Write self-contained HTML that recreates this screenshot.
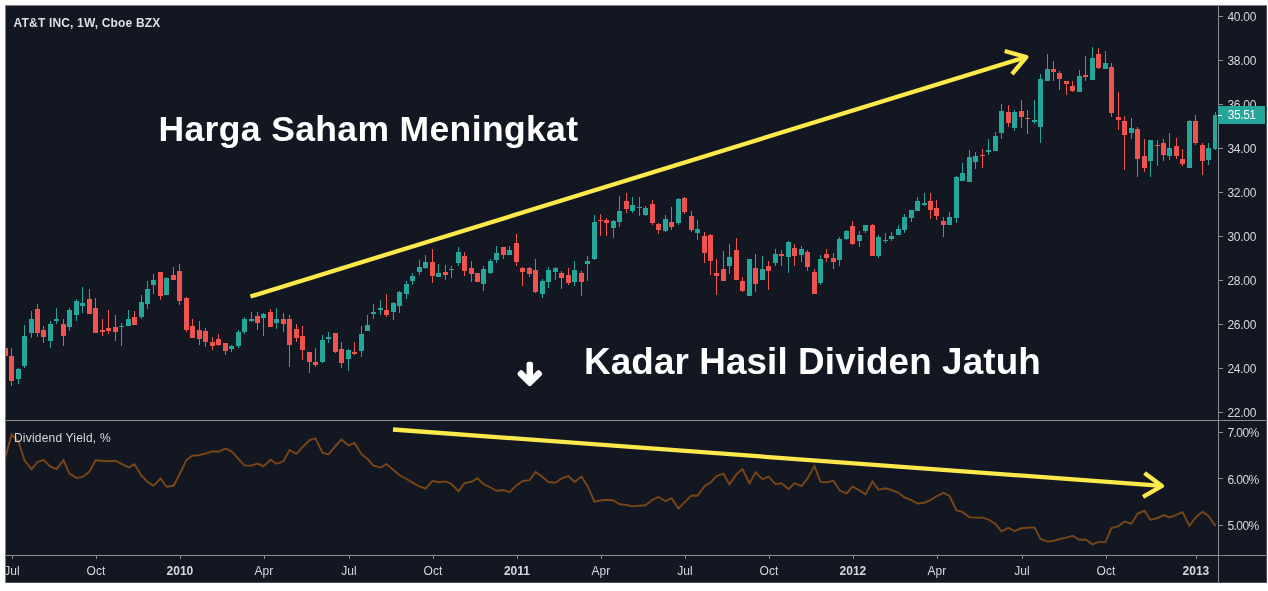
<!DOCTYPE html>
<html lang="ms"><head><meta charset="utf-8"><title>AT&amp;T INC – Harga Saham vs Kadar Hasil Dividen</title>
<style>
html,body{margin:0;padding:0;background:#fff;}
body{width:1268px;height:591px;overflow:hidden;}
svg{display:block;font-family:"Liberation Sans","DejaVu Sans",sans-serif;}
.ax text{font-size:12px;fill:#d6d8de;}
.pr text{letter-spacing:-0.3px;}
.big{font-weight:700;fill:#fff;letter-spacing:0.13px;}
</style></head><body>
<svg width="1268" height="591" viewBox="0 0 1268 591">
<defs><clipPath id="cp"><rect x="6" y="421" width="1212" height="134"/></clipPath><clipPath id="cp2"><rect x="6" y="556" width="1260" height="27"/></clipPath></defs>
<rect x="0" y="0" width="1268" height="591" fill="#fff"/>
<rect x="5" y="5" width="1262" height="578" fill="#131722"/>
<g shape-rendering="crispEdges">
<rect x="5" y="5" width="1262" height="1" fill="#7e8086"/>
<rect x="5" y="5" width="1" height="578" fill="#7e8086"/>
<rect x="1266" y="6" width="1" height="577" fill="#50535b"/>
<rect x="6" y="582" width="1261" height="1" fill="#50535b"/>
</g>
<g shape-rendering="crispEdges">
<path fill="#26a69a" d="M16,369h5v10h-5zM18,368h1v16h-1zM22,336h5v30h-5zM24,325h1v43h-1zM29,319h5v14h-5zM31,311h1v27h-1zM48,324h5v17h-5zM50,321h1v27h-1zM54,319h5v2h-5zM56,308h1v16h-1zM67,310h5v17h-5zM69,308h1v23h-1zM74,301h5v14h-5zM76,299h1v22h-1zM80,303h5v3h-5zM82,287h1v26h-1zM119,326h5v1h-5zM121,323h1v23h-1zM126,319h5v7h-5zM128,310h1v16h-1zM139,302h5v15h-5zM141,295h1v24h-1zM145,289h5v15h-5zM147,281h1v28h-1zM151,280h5v5h-5zM153,274h1v20h-1zM164,278h5v17h-5zM166,277h1v18h-1zM229,346h5v3h-5zM231,345h1v7h-1zM236,332h5v14h-5zM238,330h1v18h-1zM242,319h5v13h-5zM244,317h1v17h-1zM249,319h5v2h-5zM251,312h1v10h-1zM261,314h5v4h-5zM263,313h1v23h-1zM274,319h5v4h-5zM276,308h1v21h-1zM320,340h5v22h-5zM322,335h1v28h-1zM326,337h5v2h-5zM328,332h1v11h-1zM346,350h5v9h-5zM348,349h1v22h-1zM359,334h5v17h-5zM361,326h1v31h-1zM365,325h5v6h-5zM367,315h1v16h-1zM371,312h5v2h-5zM373,304h1v15h-1zM378,308h5v2h-5zM380,300h1v15h-1zM391,303h5v9h-5zM393,302h1v18h-1zM397,292h5v14h-5zM399,291h1v22h-1zM404,284h5v10h-5zM406,281h1v18h-1zM410,276h5v5h-5zM412,273h1v12h-1zM417,267h5v5h-5zM419,260h1v15h-1zM423,262h5v6h-5zM425,255h1v14h-1zM436,273h5v4h-5zM438,264h1v13h-1zM449,269h5v1h-5zM451,266h1v12h-1zM456,252h5v11h-5zM458,247h1v19h-1zM481,269h5v15h-5zM483,266h1v25h-1zM488,261h5v12h-5zM490,259h1v15h-1zM494,253h5v7h-5zM496,246h1v17h-1zM507,250h5v5h-5zM509,246h1v9h-1zM540,281h5v13h-5zM542,279h1v19h-1zM546,270h5v12h-5zM548,267h1v21h-1zM553,268h5v4h-5zM555,267h1v13h-1zM572,270h5v12h-5zM574,261h1v25h-1zM585,261h5v3h-5zM587,256h1v25h-1zM592,222h5v37h-5zM594,215h1v45h-1zM611,221h5v7h-5zM613,220h1v18h-1zM617,211h5v11h-5zM619,196h1v31h-1zM630,205h5v6h-5zM632,197h1v16h-1zM637,207h5v1h-5zM639,197h1v19h-1zM643,208h5v7h-5zM645,206h1v10h-1zM663,219h5v12h-5zM665,215h1v17h-1zM676,199h5v24h-5zM678,198h1v27h-1zM695,229h5v4h-5zM697,220h1v20h-1zM727,257h5v9h-5zM729,244h1v30h-1zM747,259h5v37h-5zM760,269h5v11h-5zM762,256h1v24h-1zM773,254h5v9h-5zM775,249h1v17h-1zM786,242h5v15h-5zM788,241h1v32h-1zM799,249h5v6h-5zM801,246h1v16h-1zM818,259h5v24h-5zM820,255h1v30h-1zM837,239h5v21h-5zM839,237h1v29h-1zM844,231h5v8h-5zM846,230h1v10h-1zM857,235h5v6h-5zM859,231h1v16h-1zM863,225h5v6h-5zM865,225h1v8h-1zM876,237h5v19h-5zM878,235h1v23h-1zM883,240h5v1h-5zM885,233h1v10h-1zM889,236h5v3h-5zM891,232h1v9h-1zM896,229h5v6h-5zM898,225h1v10h-1zM902,217h5v13h-5zM904,214h1v19h-1zM909,210h5v8h-5zM911,210h1v12h-1zM915,201h5v10h-5zM917,197h1v14h-1zM922,203h5v2h-5zM924,193h1v13h-1zM947,217h5v8h-5zM949,212h1v13h-1zM954,177h5v41h-5zM956,176h1v47h-1zM960,173h5v8h-5zM962,163h1v18h-1zM967,157h5v25h-5zM969,150h1v32h-1zM973,156h5v6h-5zM975,152h1v17h-1zM986,150h5v2h-5zM988,139h1v16h-1zM993,136h5v15h-5zM995,132h1v19h-1zM999,111h5v22h-5zM1001,104h1v35h-1zM1012,112h5v16h-5zM1014,110h1v21h-1zM1032,120h5v2h-5zM1034,100h1v24h-1zM1038,79h5v48h-5zM1040,74h1v69h-1zM1045,69h5v12h-5zM1047,54h1v27h-1zM1077,76h5v16h-5zM1079,70h1v22h-1zM1090,58h5v22h-5zM1092,47h1v33h-1zM1103,63h5v6h-5zM1105,51h1v18h-1zM1129,128h5v5h-5zM1131,118h1v21h-1zM1148,140h5v21h-5zM1150,140h1v37h-1zM1167,148h5v8h-5zM1169,133h1v27h-1zM1187,121h5v47h-5zM1189,120h1v48h-1zM1206,148h5v12h-5zM1208,143h1v22h-1zM1213,115h4v34h-4zM1215,112h1v38h-1z"/>
<path fill="#ef5350" d="M6,348h2v8h-2zM9,356h5v25h-5zM11,348h1v38h-1zM35,309h5v24h-5zM37,304h1v33h-1zM41,330h5v7h-5zM43,326h1v17h-1zM61,324h5v12h-5zM63,319h1v27h-1zM87,299h5v15h-5zM89,289h1v25h-1zM93,308h5v25h-5zM95,298h1v35h-1zM100,330h5v2h-5zM102,319h1v17h-1zM106,328h5v3h-5zM108,310h1v24h-1zM113,327h5v5h-5zM115,315h1v26h-1zM132,317h5v8h-5zM134,311h1v14h-1zM158,272h5v24h-5zM160,272h1v28h-1zM171,275h5v5h-5zM173,267h1v13h-1zM177,271h5v30h-5zM179,264h1v41h-1zM184,298h5v32h-5zM186,297h1v35h-1zM190,326h5v12h-5zM192,319h1v19h-1zM197,330h5v9h-5zM199,321h1v24h-1zM203,331h5v11h-5zM205,328h1v19h-1zM210,342h5v4h-5zM212,337h1v13h-1zM216,339h5v6h-5zM218,334h1v12h-1zM223,343h5v8h-5zM225,343h1v12h-1zM255,316h5v7h-5zM257,312h1v18h-1zM268,312h5v15h-5zM270,309h1v18h-1zM281,319h5v5h-5zM283,313h1v19h-1zM287,319h5v26h-5zM289,315h1v52h-1zM294,329h5v9h-5zM296,324h1v18h-1zM300,336h5v14h-5zM302,326h1v34h-1zM307,352h5v10h-5zM309,352h1v21h-1zM313,362h5v3h-5zM315,348h1v19h-1zM333,333h5v19h-5zM335,333h1v20h-1zM339,349h5v14h-5zM341,342h1v26h-1zM352,352h5v2h-5zM354,342h1v13h-1zM384,310h5v5h-5zM386,294h1v23h-1zM430,262h5v14h-5zM432,249h1v34h-1zM443,272h5v3h-5zM445,265h1v15h-1zM462,256h5v15h-5zM464,252h1v24h-1zM469,268h5v6h-5zM471,261h1v21h-1zM475,273h5v9h-5zM501,247h5v8h-5zM503,247h1v12h-1zM514,243h5v19h-5zM516,234h1v32h-1zM520,268h5v4h-5zM522,267h1v19h-1zM527,268h5v6h-5zM529,267h1v10h-1zM533,270h5v22h-5zM535,259h1v34h-1zM559,273h5v5h-5zM561,271h1v18h-1zM566,275h5v8h-5zM568,268h1v17h-1zM579,273h5v9h-5zM581,271h1v25h-1zM598,220h5v1h-5zM600,214h1v22h-1zM604,220h5v3h-5zM606,218h1v18h-1zM624,201h5v8h-5zM626,193h1v20h-1zM650,204h5v19h-5zM652,200h1v25h-1zM656,224h5v6h-5zM658,223h1v11h-1zM669,222h5v5h-5zM671,207h1v23h-1zM682,198h5v14h-5zM684,197h1v17h-1zM689,216h5v14h-5zM691,211h1v21h-1zM702,236h5v17h-5zM704,232h1v31h-1zM708,235h5v26h-5zM710,234h1v41h-1zM714,273h5v3h-5zM716,259h1v36h-1zM721,269h5v12h-5zM723,251h1v30h-1zM734,250h5v30h-5zM736,238h1v42h-1zM740,281h5v10h-5zM742,277h1v15h-1zM753,268h5v16h-5zM755,254h1v38h-1zM766,266h5v5h-5zM768,261h1v29h-1zM779,254h5v2h-5zM781,250h1v16h-1zM792,248h5v8h-5zM794,244h1v22h-1zM805,252h5v15h-5zM807,250h1v21h-1zM812,272h5v22h-5zM814,269h1v25h-1zM824,254h5v4h-5zM826,249h1v13h-1zM831,258h5v4h-5zM833,253h1v16h-1zM850,226h5v18h-5zM852,221h1v24h-1zM870,225h5v31h-5zM872,224h1v32h-1zM928,201h5v9h-5zM930,193h1v26h-1zM934,208h5v8h-5zM936,200h1v20h-1zM941,221h5v4h-5zM943,217h1v20h-1zM980,155h5v1h-5zM982,149h1v19h-1zM1006,112h5v11h-5zM1008,105h1v22h-1zM1019,111h5v6h-5zM1021,100h1v28h-1zM1025,118h5v1h-5zM1027,110h1v24h-1zM1051,69h5v3h-5zM1053,61h1v20h-1zM1057,73h5v6h-5zM1059,71h1v19h-1zM1064,81h5v3h-5zM1066,81h1v14h-1zM1070,86h5v5h-5zM1072,81h1v11h-1zM1083,75h5v2h-5zM1085,56h1v25h-1zM1096,54h5v14h-5zM1098,48h1v21h-1zM1109,67h5v46h-5zM1111,63h1v54h-1zM1116,117h5v3h-5zM1118,92h1v38h-1zM1122,121h5v14h-5zM1124,116h1v54h-1zM1135,129h5v30h-5zM1137,127h1v50h-1zM1142,156h5v12h-5zM1144,139h1v33h-1zM1155,145h5v1h-5zM1157,140h1v26h-1zM1161,143h5v12h-5zM1163,139h1v22h-1zM1174,146h5v10h-5zM1176,138h1v21h-1zM1180,159h5v5h-5zM1182,149h1v17h-1zM1193,121h5v22h-5zM1195,115h1v30h-1zM1200,145h5v16h-5zM1202,143h1v32h-1z"/>
</g>
<path d="M5.5,457.0 L11.5,434.4 L18.5,441.8 L24.5,460.4 L31.5,469.2 L37.5,462.0 L43.5,459.9 L50.5,466.6 L56.5,469.2 L63.5,460.4 L69.5,473.6 L76.5,477.9 L82.5,476.9 L89.5,471.6 L95.5,460.2 L102.5,460.7 L108.5,461.2 L115.5,460.7 L121.5,463.8 L128.5,467.4 L134.5,464.3 L141.5,475.7 L147.5,481.7 L153.5,485.8 L160.5,478.5 L166.5,486.7 L173.5,485.8 L179.5,474.5 L186.5,459.9 L192.5,455.7 L199.5,455.1 L205.5,453.5 L212.5,451.3 L218.5,451.8 L225.5,448.5 L231.5,451.3 L238.5,458.9 L244.5,465.6 L251.5,465.6 L257.5,463.6 L263.5,466.4 L270.5,459.7 L276.5,463.8 L283.5,461.3 L289.5,450.0 L296.5,453.8 L302.5,447.1 L309.5,440.2 L315.5,438.4 L322.5,452.7 L328.5,454.4 L335.5,446.0 L341.5,439.6 L348.5,445.3 L354.5,443.0 L361.5,454.2 L367.5,459.0 L373.5,465.6 L380.5,467.6 L386.5,464.1 L393.5,470.0 L399.5,475.3 L406.5,479.0 L412.5,482.6 L419.5,486.5 L425.5,488.7 L432.5,480.9 L438.5,482.3 L445.5,481.4 L451.5,484.0 L458.5,491.3 L464.5,483.1 L471.5,481.8 L477.5,478.2 L483.5,484.0 L490.5,487.5 L496.5,490.8 L503.5,490.0 L509.5,492.1 L516.5,485.4 L522.5,481.1 L529.5,480.2 L535.5,471.9 L542.5,477.0 L548.5,482.0 L555.5,482.8 L561.5,478.4 L568.5,476.1 L574.5,482.0 L581.5,476.6 L587.5,485.9 L594.5,501.6 L600.5,500.5 L606.5,499.7 L613.5,500.5 L619.5,504.2 L626.5,505.0 L632.5,506.4 L639.5,505.7 L645.5,505.3 L652.5,499.7 L658.5,497.0 L665.5,501.2 L671.5,498.2 L678.5,508.6 L684.5,502.4 L691.5,495.5 L697.5,495.8 L704.5,486.1 L710.5,482.6 L716.5,476.0 L723.5,473.7 L729.5,484.4 L736.5,474.2 L742.5,469.0 L749.5,483.5 L755.5,472.3 L762.5,479.1 L768.5,476.6 L775.5,484.1 L781.5,483.2 L788.5,489.1 L794.5,483.2 L801.5,486.2 L807.5,478.4 L814.5,465.9 L820.5,481.9 L826.5,482.3 L833.5,480.6 L839.5,490.3 L846.5,493.5 L852.5,486.7 L859.5,490.4 L865.5,494.4 L872.5,481.6 L878.5,489.6 L885.5,488.3 L891.5,490.0 L898.5,492.8 L904.5,497.5 L911.5,500.1 L917.5,503.5 L924.5,502.7 L930.5,500.1 L936.5,496.3 L943.5,492.8 L949.5,496.0 L956.5,510.5 L962.5,511.9 L969.5,517.2 L975.5,517.6 L982.5,517.6 L988.5,519.5 L995.5,523.9 L1001.5,531.3 L1008.5,527.8 L1014.5,531.0 L1021.5,528.3 L1027.5,527.7 L1034.5,527.4 L1040.5,539.0 L1047.5,541.6 L1053.5,540.8 L1059.5,539.0 L1066.5,537.6 L1072.5,535.7 L1079.5,539.8 L1085.5,539.5 L1092.5,544.4 L1098.5,541.9 L1105.5,541.9 L1111.5,528.1 L1118.5,526.1 L1124.5,521.5 L1131.5,523.7 L1137.5,513.8 L1144.5,510.8 L1150.5,519.9 L1157.5,518.0 L1163.5,515.1 L1169.5,517.4 L1176.5,514.8 L1182.5,512.1 L1189.5,525.8 L1195.5,517.6 L1202.5,511.7 L1208.5,516.0 L1215.5,526.2" fill="none" stroke="#7a4617" stroke-width="1.9" stroke-linejoin="miter" clip-path="url(#cp)"/>
<g shape-rendering="crispEdges">
<rect x="6" y="420" width="1260" height="1" fill="#8a8c92"/>
<rect x="6" y="555" width="1260" height="1" fill="#8a8c92"/>
<rect x="1218" y="6" width="1" height="576" fill="#8a8c92"/>
</g>
<g class="ax">
<g class="pr">
<rect x="1219" y="16" width="4" height="1" fill="#8a8c92"/>
<text x="1227.5" y="20.6">40.00</text>
<rect x="1219" y="60" width="4" height="1" fill="#8a8c92"/>
<text x="1227.5" y="64.6">38.00</text>
<rect x="1219" y="104" width="4" height="1" fill="#8a8c92"/>
<text x="1227.5" y="108.6">36.00</text>
<rect x="1219" y="148" width="4" height="1" fill="#8a8c92"/>
<text x="1227.5" y="152.6">34.00</text>
<rect x="1219" y="192" width="4" height="1" fill="#8a8c92"/>
<text x="1227.5" y="196.6">32.00</text>
<rect x="1219" y="236" width="4" height="1" fill="#8a8c92"/>
<text x="1227.5" y="240.6">30.00</text>
<rect x="1219" y="280" width="4" height="1" fill="#8a8c92"/>
<text x="1227.5" y="284.6">28.00</text>
<rect x="1219" y="324" width="4" height="1" fill="#8a8c92"/>
<text x="1227.5" y="328.6">26.00</text>
<rect x="1219" y="368" width="4" height="1" fill="#8a8c92"/>
<text x="1227.5" y="372.6">24.00</text>
<rect x="1219" y="412" width="4" height="1" fill="#8a8c92"/>
<text x="1227.5" y="416.6">22.00</text>
<rect x="1219" y="432" width="4" height="1" fill="#8a8c92"/>
<text x="1227.5" y="437.2" style="letter-spacing:-0.6px">7.00%</text>
<rect x="1219" y="478" width="4" height="1" fill="#8a8c92"/>
<text x="1227.5" y="483.6" style="letter-spacing:-0.6px">6.00%</text>
<rect x="1219" y="525" width="4" height="1" fill="#8a8c92"/>
<text x="1227.5" y="530.2" style="letter-spacing:-0.6px">5.00%</text>
</g>
<g clip-path="url(#cp2)">
<rect x="12" y="556" width="1" height="3" fill="#8a8c92"/>
<text x="11.9" y="574.5" text-anchor="middle">Jul</text>
<rect x="96" y="556" width="1" height="3" fill="#8a8c92"/>
<text x="95.9" y="574.5" text-anchor="middle">Oct</text>
<rect x="180" y="556" width="1" height="3" fill="#8a8c92"/>
<text x="179.9" y="574.5" text-anchor="middle" font-weight="700">2010</text>
<rect x="264" y="556" width="1" height="3" fill="#8a8c92"/>
<text x="263.9" y="574.5" text-anchor="middle">Apr</text>
<rect x="349" y="556" width="1" height="3" fill="#8a8c92"/>
<text x="348.9" y="574.5" text-anchor="middle">Jul</text>
<rect x="433" y="556" width="1" height="3" fill="#8a8c92"/>
<text x="432.9" y="574.5" text-anchor="middle">Oct</text>
<rect x="517" y="556" width="1" height="3" fill="#8a8c92"/>
<text x="516.9" y="574.5" text-anchor="middle" font-weight="700">2011</text>
<rect x="601" y="556" width="1" height="3" fill="#8a8c92"/>
<text x="600.9" y="574.5" text-anchor="middle">Apr</text>
<rect x="685" y="556" width="1" height="3" fill="#8a8c92"/>
<text x="684.9" y="574.5" text-anchor="middle">Jul</text>
<rect x="769" y="556" width="1" height="3" fill="#8a8c92"/>
<text x="768.9" y="574.5" text-anchor="middle">Oct</text>
<rect x="853" y="556" width="1" height="3" fill="#8a8c92"/>
<text x="852.9" y="574.5" text-anchor="middle" font-weight="700">2012</text>
<rect x="937" y="556" width="1" height="3" fill="#8a8c92"/>
<text x="936.9" y="574.5" text-anchor="middle">Apr</text>
<rect x="1022" y="556" width="1" height="3" fill="#8a8c92"/>
<text x="1021.9" y="574.5" text-anchor="middle">Jul</text>
<rect x="1106" y="556" width="1" height="3" fill="#8a8c92"/>
<text x="1105.9" y="574.5" text-anchor="middle">Oct</text>
<rect x="1196" y="556" width="1" height="3" fill="#8a8c92"/>
<text x="1195.9" y="574.5" text-anchor="middle" font-weight="700">2013</text>
</g>
<text x="13.6" y="26.8" font-weight="700" style="letter-spacing:0.17px;fill:#dddfe4">AT&amp;T INC, 1W, Cboe BZX</text>
<text x="14" y="441.9" style="letter-spacing:0.2px">Dividend Yield, %</text>
</g>
<rect x="1218" y="106" width="47" height="18" fill="#26a69a"/>
<rect x="1218" y="115" width="4" height="1" fill="#fff" shape-rendering="crispEdges"/>
<text x="1227.8" y="119.2" font-size="12" fill="#fff" style="letter-spacing:-0.45px">35.51</text>
<g fill="none" stroke="#fde94a" stroke-width="4.3" stroke-linejoin="round">
<path d="M250.5,296.5 L1026.3,57"/>
<path d="M1004.7,51 L1026.3,57 L1012,74.1"/>
<path d="M393,429.5 L1162,485.9"/>
<path d="M1144.5,473.1 L1162,485.9 L1143,496.8"/>
</g>
<path d="M526.55,364.00 Q526.55,361.80 528.75,361.80 L530.85,361.80 Q533.05,361.80 533.05,364.00 L533.05,374.65 L536.89,370.81 Q538.45,369.25 540.01,370.81 L541.49,372.29 Q543.05,373.85 541.49,375.41 L531.36,385.54 Q529.80,387.10 528.24,385.54 L518.11,375.41 Q516.55,373.85 518.11,372.29 L519.59,370.81 Q521.15,369.25 522.71,370.81 L526.55,374.65Z" fill="#fff"/>
<text class="big" font-size="35.5" x="158.5" y="141" style="letter-spacing:0.36px">Harga Saham Meningkat</text>
<text class="big" font-size="36.8" x="584.1" y="374" style="letter-spacing:0.11px">Kadar Hasil Dividen Jatuh</text>
</svg>
</body></html>
